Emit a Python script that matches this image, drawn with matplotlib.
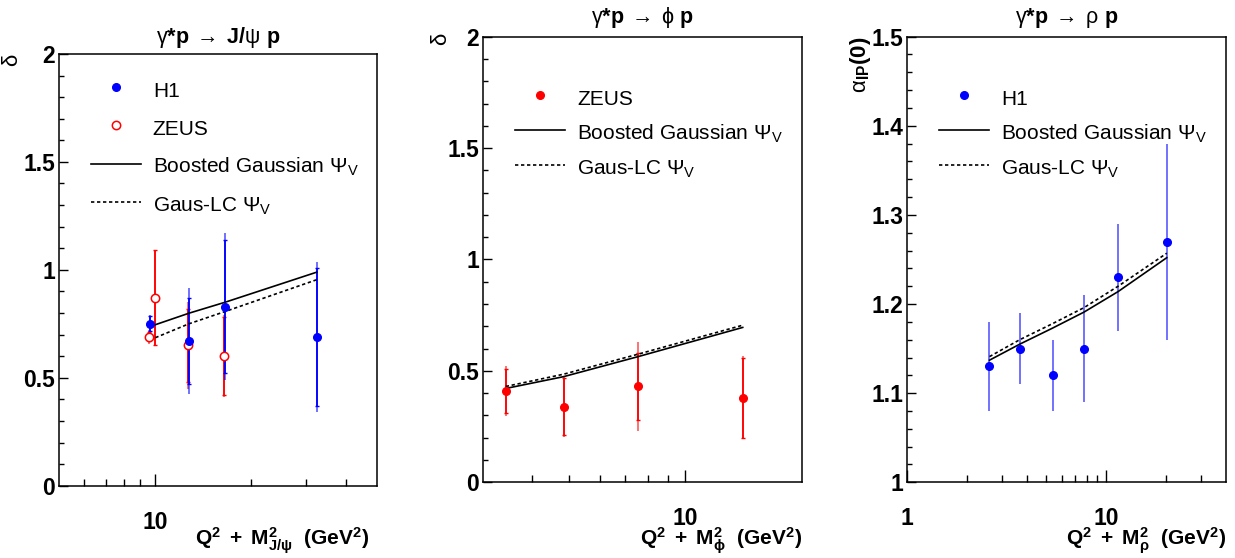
import numpy as np
import matplotlib
matplotlib.use('Agg')
import matplotlib.pyplot as plt
from matplotlib.ticker import FixedLocator, NullFormatter, FixedFormatter

plt.rcParams['font.family'] = ['Liberation Sans', 'DejaVu Sans']
plt.rcParams['mathtext.fontset'] = 'custom'
plt.rcParams['mathtext.rm'] = 'Liberation Sans'
plt.rcParams['mathtext.it'] = 'Liberation Sans:italic'
plt.rcParams['mathtext.bf'] = 'Liberation Sans:bold'
plt.rcParams['mathtext.default'] = 'regular'

# ---------------- data ----------------
# J/psi panel
jpsi_h1_x = [9.64, 12.8, 16.65, 32.3]
jpsi_h1_y = [0.75, 0.67, 0.83, 0.69]
jpsi_h1_stat = [0.035, 0.20, 0.31, 0.32]
jpsi_h1_tot = [0.04, 0.245, 0.34, 0.347]
jpsi_zeus_x = [9.57, 10.0, 12.69, 16.45]
jpsi_zeus_y = [0.69, 0.87, 0.65, 0.60]
jpsi_zeus_stat = [0.02, 0.22, 0.17, 0.18]
jpsi_zeus_tot = [0.033, 0.22, 0.20, 0.19]
jpsi_model_x = [9.64, 12.8, 16.65, 32.3]
jpsi_bg = [0.737, 0.799, 0.850, 0.989]
jpsi_lc = [0.675, 0.750, 0.807, 0.954]

# phi panel
phi_zeus_x = [3.43, 4.84, 7.55, 14.08]
phi_zeus_y = [0.41, 0.34, 0.43, 0.38]
phi_zeus_stat = [0.10, 0.13, 0.15, 0.18]
phi_zeus_tot = [0.112, 0.135, 0.20, 0.187]
phi_model_x = [3.43, 4.84, 7.55, 14.08]
phi_bg = [0.421, 0.474, 0.564, 0.695]
phi_lc = [0.430, 0.485, 0.575, 0.705]

# rho panel
rho_h1_x = [2.59, 3.68, 5.38, 7.75, 11.5, 20.2]
rho_h1_y = [1.13, 1.15, 1.12, 1.15, 1.23, 1.27]
rho_h1_err = [0.05, 0.04, 0.04, 0.06, 0.06, 0.11]
rho_model_x = [2.59, 3.68, 5.38, 7.75, 11.5, 20.2]
rho_bg = [1.137, 1.155, 1.173, 1.191, 1.214, 1.252]
rho_lc = [1.141, 1.160, 1.178, 1.196, 1.220, 1.257]

BLUE = '#0000ff'
RED = '#ff0000'
LEG_FS = 15

fig = plt.figure(figsize=(12.35, 5.58), dpi=100)

ax1 = fig.add_axes([0.0480, 0.1296, 0.2572, 0.7737])
ax2 = fig.add_axes([0.3913, 0.1357, 0.2578, 0.7986])
ax3 = fig.add_axes([0.7347, 0.1357, 0.2578, 0.7986])


def style_axis(ax, xlim, ylim, xmajor, xmajor_labels, xminor, ymajor, ymajor_labels, yminor):
    ax.set_xscale('log')
    ax.set_xlim(*xlim)
    ax.set_ylim(*ylim)
    ax.xaxis.set_major_locator(FixedLocator(xmajor))
    ax.xaxis.set_major_formatter(FixedFormatter(xmajor_labels))
    ax.xaxis.set_minor_locator(FixedLocator(xminor))
    ax.xaxis.set_minor_formatter(NullFormatter())
    ax.yaxis.set_major_locator(FixedLocator(ymajor))
    ax.yaxis.set_major_formatter(FixedFormatter(ymajor_labels))
    ax.yaxis.set_minor_locator(FixedLocator(yminor))
    ax.tick_params(axis='both', which='both', direction='in', top=False, right=False, width=1.0)
    ax.tick_params(axis='y', which='major', length=6.5, pad=3, labelsize=16.5)
    ax.tick_params(axis='y', which='minor', length=3.6)
    ax.tick_params(axis='x', which='major', length=9, pad=18, labelsize=16.5)
    ax.tick_params(axis='x', which='minor', length=5)
    for lab in ax.get_xticklabels() + ax.get_yticklabels():
        lab.set_fontweight('bold')
    for sp in ax.spines.values():
        sp.set_linewidth(1.1)


def draw_points(ax, x, y, stat, tot, color, filled, label):
    ax.errorbar(x, y, yerr=tot, fmt='none', ecolor=color, elinewidth=1.3, alpha=0.6, capsize=0)
    if stat is not None:
        ax.errorbar(x, y, yerr=stat, fmt='none', ecolor=color, elinewidth=1.3,
                    capsize=1.6, capthick=1.0)
    if filled:
        h, = ax.plot(x, y, 'o', ms=5.5, mfc=color, mec=color, ls='none', label=label, zorder=5)
    else:
        h, = ax.plot(x, y, 'o', ms=6, mfc='white', mec=color, mew=1.1, ls='none', label=label, zorder=5)
    return h


def draw_models(ax, x, bg, lc):
    h1, = ax.plot(x, bg, color='black', lw=1.2, label=r'Boosted Gaussian $\Psi_{V}$', zorder=4)
    h2, = ax.plot(x, lc, color='black', lw=1.2, ls=(0, (2, 1.6)), label=r'Gaus-LC $\Psi_{V}$', zorder=4)
    return h1, h2


def add_legend(ax, handles, labels, top, spacing):
    ax.legend(handles, labels, loc='upper left', bbox_to_anchor=(0.0998, top), frameon=False,
              fontsize=LEG_FS, borderpad=0, borderaxespad=0, handlelength=2.4,
              handletextpad=0.57, handleheight=1.4, labelspacing=spacing, numpoints=1)


# ---- panel 1 : J/psi ----
style_axis(ax1, (5, 50), (0, 2), [10], ['10'], [6, 7, 8, 9, 20, 30, 40],
           [0, 0.5, 1, 1.5, 2], ['0', '0.5', '1', '1.5', '2'],
           [v / 10 for v in range(0, 21) if v % 5 != 0])
hz = draw_points(ax1, jpsi_zeus_x, jpsi_zeus_y, jpsi_zeus_stat, jpsi_zeus_tot, RED, False, 'ZEUS')
hh = draw_points(ax1, jpsi_h1_x, jpsi_h1_y, jpsi_h1_stat, jpsi_h1_tot, BLUE, True, 'H1')
hb, hl = draw_models(ax1, jpsi_model_x, jpsi_bg, jpsi_lc)
add_legend(ax1, [hh, hz, hb, hl], ['H1', 'ZEUS', r'Boosted Gaussian $\Psi_{V}$', r'Gaus-LC $\Psi_{V}$'],
           0.9453, 0.68)
ax1.text(0.5, 1.039, r'$\gamma\mathbf{*p}\;\rightarrow\;\mathbf{J/}\psi\ \mathbf{p}$',
         transform=ax1.transAxes, ha='center', va='center', fontsize=15.5)
ax1.text(-0.146, 1.0, r'$\delta$', transform=ax1.transAxes, rotation=90,
         ha='center', va='top', fontsize=16)
ax1.text(0.975, -0.137, r'$\mathbf{Q^{2}\ +\ M^{2}_{J/\psi}\ \ (GeV^{2})}$', transform=ax1.transAxes,
         ha='right', va='baseline', fontsize=15)

# ---- panel 2 : phi ----
style_axis(ax2, (3, 20), (0, 2), [10], ['10'], [4, 5, 6, 7, 8, 9],
           [0, 0.5, 1, 1.5, 2], ['0', '0.5', '1', '1.5', '2'],
           [v / 10 for v in range(0, 21) if v % 5 != 0])
hz2 = draw_points(ax2, phi_zeus_x, phi_zeus_y, phi_zeus_stat, phi_zeus_tot, RED, True, 'ZEUS')
hb2, hl2 = draw_models(ax2, phi_model_x, phi_bg, phi_lc)
add_legend(ax2, [hz2, hb2, hl2], ['ZEUS', r'Boosted Gaussian $\Psi_{V}$', r'Gaus-LC $\Psi_{V}$'],
           0.890, 0.51)
ax2.text(0.5, 1.042, r'$\gamma\mathbf{*p}\;\rightarrow\;\phi\ \mathbf{p}$',
         transform=ax2.transAxes, ha='center', va='center', fontsize=15.5)
ax2.text(-0.131, 1.01, r'$\delta$', transform=ax2.transAxes, rotation=90,
         ha='center', va='top', fontsize=16)
ax2.text(1.0, -0.141, r'$\mathbf{Q^{2}\ +\ M^{2}_{\phi}\ \ (GeV^{2})}$', transform=ax2.transAxes,
         ha='right', va='baseline', fontsize=15)

# ---- panel 3 : rho ----
style_axis(ax3, (1, 40), (1.0, 1.5), [1, 10], ['1', '10'], [2, 3, 4, 5, 6, 7, 8, 9, 20, 30],
           [1.0, 1.1, 1.2, 1.3, 1.4, 1.5], ['1', '1.1', '1.2', '1.3', '1.4', '1.5'],
           [1.0 + v / 50 for v in range(0, 26) if v % 5 != 0])
hh3 = draw_points(ax3, rho_h1_x, rho_h1_y, None, rho_h1_err, BLUE, True, 'H1')
hb3, hl3 = draw_models(ax3, rho_model_x, rho_bg, rho_lc)
add_legend(ax3, [hh3, hb3, hl3], ['H1', r'Boosted Gaussian $\Psi_{V}$', r'Gaus-LC $\Psi_{V}$'],
           0.890, 0.51)
ax3.text(0.5, 1.042, r'$\gamma\mathbf{*p}\;\rightarrow\;\rho\ \mathbf{p}$',
         transform=ax3.transAxes, ha='center', va='center', fontsize=15.5)
ax3.text(-0.148, 1.0, r'$\alpha_{\mathbf{IP}}\mathbf{(0)}$', transform=ax3.transAxes, rotation=90,
         ha='center', va='top', fontsize=16)
ax3.text(1.0, -0.141, r'$\mathbf{Q^{2}\ +\ M^{2}_{\rho}\ \ (GeV^{2})}$', transform=ax3.transAxes,
         ha='right', va='baseline', fontsize=15)

fig.savefig('out.png', dpi=100)
